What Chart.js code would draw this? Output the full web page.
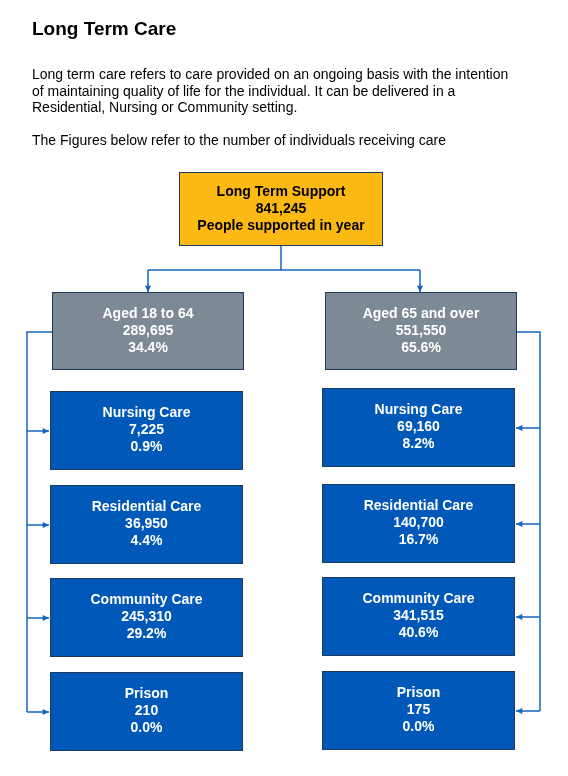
<!DOCTYPE html>
<html><head><meta charset="utf-8">
<script src="https://cdn.jsdelivr.net/npm/chart.js@4"></script>
<style>html,body{margin:0;padding:0;background:#fff}#w{position:relative;width:568px;height:776px}</style>
</head><body><div id="w"><canvas id="c"></canvas></div>
<script>
const title = "Long Term Care";
const introLines = ["Long term care refers to care provided on an ongoing basis with the intention","of maintaining quality of life for the individual. It can be delivered in a","Residential, Nursing or Community setting."];
const note = "The Figures below refer to the number of individuals receiving care";
const topLabel = ["Long Term Support","841,245","People supported in year"];
const groups = ["Aged 18 to 64","Aged 65 and over"];
const groupValues = ["289,695","551,550"];
const groupPct = ["34.4%","65.6%"];
const careTypes = ["Nursing Care","Residential Care","Community Care","Prison"];
const youngValues = ["7,225","36,950","245,310","210"];
const youngPct = ["0.9%","4.4%","29.2%","0.0%"];
const oldValues = ["69,160","140,700","341,515","175"];
const oldPct = ["8.2%","16.7%","40.6%","0.0%"];

const BLUE="#0058B8", GREY="#7D8A96", GOLD="#FDB913", LINE="#1565C0";
function box(ctx,x,y,w,h,fill,lines,color){
  ctx.fillStyle=fill;ctx.fillRect(x,y,w,h);
  ctx.strokeStyle="#1F3A5F";ctx.lineWidth=1;ctx.strokeRect(x+.5,y+.5,w-1,h-1);
  ctx.fillStyle=color;ctx.font="bold 14px Arial, 'Liberation Sans'";ctx.textAlign="center";ctx.textBaseline="middle";
  const n=lines.length, cy=y+h/2;
  lines.forEach((t,i)=>ctx.fillText(t,x+w/2,cy+(i-(n-1)/2)*17));
}
function arrow(ctx,x1,y1,x2,y2){
  ctx.strokeStyle=LINE;ctx.fillStyle=LINE;ctx.lineWidth=1.5;
  ctx.beginPath();ctx.moveTo(x1,y1);ctx.lineTo(x2,y2);ctx.stroke();
  const a=Math.atan2(y2-y1,x2-x1),s=7;
  ctx.beginPath();ctx.moveTo(x2,y2);ctx.lineTo(x2-s*Math.cos(a-0.45),y2-s*Math.sin(a-0.45));
  ctx.lineTo(x2-s*Math.cos(a+0.45),y2-s*Math.sin(a+0.45));ctx.closePath();ctx.fill();
}
function line(ctx,pts){ctx.strokeStyle=LINE;ctx.lineWidth=1.5;ctx.beginPath();pts.forEach((p,i)=>i?ctx.lineTo(p[0],p[1]):ctx.moveTo(p[0],p[1]));ctx.stroke();}

const plugin={id:"flow",afterDraw(chart){
  const ctx=chart.ctx;ctx.save();
  ctx.fillStyle="#000";ctx.textAlign="left";ctx.textBaseline="alphabetic";
  ctx.font="bold 19px Arial, 'Liberation Sans'";ctx.fillText(title,32,35);
  ctx.font="14px Arial, 'Liberation Sans'";
  introLines.forEach((t,i)=>ctx.fillText(t,32,79+i*16.5));
  ctx.fillText(note,32,145);
  box(ctx,179,172,204,74,GOLD,topLabel,"#000");
  line(ctx,[[281,246],[281,270],[148,270]]);line(ctx,[[281,270],[420,270]]);
  arrow(ctx,148,270,148,292);arrow(ctx,420,270,420,292);
  const gx=[52,325], bx=[50,322], by=[[391,485,578,672],[388,484,577,671]];
  const vals=[youngValues,oldValues], pcts=[youngPct,oldPct];
  groups.forEach((g,k)=>{
    box(ctx,gx[k],292,192,78,GREY,[g,groupValues[k],groupPct[k]],"#fff");
    careTypes.forEach((c,i)=>box(ctx,bx[k],by[k][i],193,79,BLUE,[c,vals[k][i],pcts[k][i]],"#fff"));
  });
  line(ctx,[[52,332],[27,332],[27,712]]);
  by[0].forEach(y=>arrow(ctx,27,y+40,49,y+40));
  line(ctx,[[517,332],[540,332],[540,711]]);
  by[1].forEach(y=>arrow(ctx,540,y+40,516,y+40));
  ctx.restore();
}};
new Chart(document.getElementById("c"),{type:"scatter",data:{datasets:[{data:[]}]},
  options:{responsive:true,maintainAspectRatio:false,animation:false,
    plugins:{legend:{display:false},tooltip:{enabled:false}},
    scales:{x:{display:false},y:{display:false}}},plugins:[plugin]});
</script></body></html>
